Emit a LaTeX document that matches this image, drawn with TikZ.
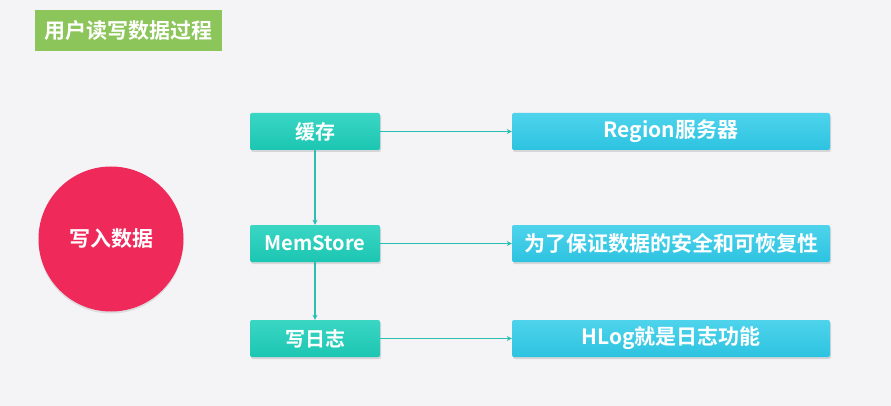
\documentclass[tikz,border=0pt]{standalone}
\usepackage{fontspec}
\setmainfont{Noto Sans CJK SC Bold}
\usetikzlibrary{arrows.meta,shadows}
\definecolor{bg}{HTML}{F4F3F6}
\definecolor{titlegreen}{HTML}{8CC55A}
\definecolor{circred}{HTML}{EF2A5B}
\definecolor{tealbox}{HTML}{1CC6B2}
\definecolor{tealtop}{HTML}{3AD6C4}
\definecolor{cyanbox}{HTML}{2CC3E0}
\definecolor{cyantop}{HTML}{4FD3EC}
\definecolor{arrowc}{HTML}{2ABFB2}
\tikzset{
  leftbox/.style={draw=none, top color=tealtop, bottom color=tealbox, rounded corners=2pt, minimum width=130pt, minimum height=37pt, text=white, font=\fontsize{20}{22}\selectfont, inner sep=0pt, drop shadow={shadow xshift=1pt, shadow yshift=-2pt, opacity=0.25}},
  rightbox/.style={draw=none, top color=cyantop, bottom color=cyanbox, rounded corners=2pt, minimum width=318pt, minimum height=37pt, text=white, font=\fontsize{21}{23}\selectfont, inner sep=0pt, drop shadow={shadow xshift=1pt, shadow yshift=-2pt, opacity=0.25}},
  conn/.style={draw=arrowc, line width=1.2pt, -{Stealth[length=5pt,width=5pt]}}
}
\begin{document}
\begin{tikzpicture}[x=1pt,y=-1pt]
\fill[bg] (0,0) rectangle (891,406);
\useasboundingbox (0,0) rectangle (891,406);
\node[fill=titlegreen, minimum width=187pt, minimum height=41pt, text=white, font=\fontsize{21}{23}\selectfont, inner sep=0pt] (title) at (128.5,30.5) {用户读写数据过程};
\node[circle, fill=circred, minimum size=145pt, text=white, font=\fontsize{21}{23}\selectfont, drop shadow={shadow xshift=0pt, shadow yshift=-2pt, opacity=0.2}] (write) at (111,239) {写入数据};
\node[leftbox] (cache) at (315,131.5) {缓存};
\node[leftbox] (mem) at (315,243.5) {MemStore};
\node[leftbox] (log) at (315,338.5) {写日志};
\node[rightbox] (region) at (671,131.5) {Region服务器};
\node[rightbox] (safe) at (671,243.5) {为了保证数据的安全和可恢复性};
\node[rightbox] (hlog) at (671,338.5) {HLog就是日志功能};
\draw[conn] (cache) -- (region);
\draw[conn] (mem) -- (safe);
\draw[conn] (log) -- (hlog);
\draw[conn] (cache) -- (mem);
\draw[conn] (mem) -- (log);
\end{tikzpicture}
\end{document}
